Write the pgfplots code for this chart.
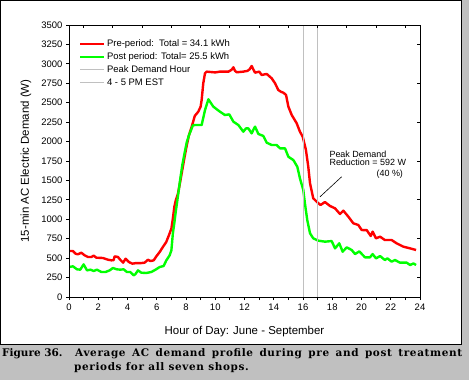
\documentclass[border=0pt]{standalone}
\usepackage{fontspec}
\setmainfont{Liberation Sans}
\newfontfamily\capfont{DejaVu Serif}
\newfontfamily\capfontls{DejaVu Serif}[LetterSpace=6]
\usepackage{pgfplots}
\pgfplotsset{compat=1.18}
\definecolor{bgray}{HTML}{C0C0C0}
\definecolor{pred}{HTML}{FF0000}
\definecolor{pgreen}{HTML}{00FF00}
\definecolor{lgray}{HTML}{C0C0C0}
\begin{document}
\begin{tikzpicture}[x=1bp,y=1bp]
\useasboundingbox (0,0) rectangle (469,-380);
\fill[bgray] (0,0) rectangle (469,-380);
\filldraw[fill=white, draw=black, line width=1bp] (0.5,-0.5) rectangle (461.5,-344);
\begin{axis}[
  at={(69bp,-297bp)}, anchor=south west,
  scale only axis, width=351bp, height=272bp,
  xmin=0, xmax=24, ymin=0, ymax=3500,
  axis line style={line width=1bp},
  xtick={0,2,...,24}, minor xtick={1,3,...,23},
  ytick={0,250,...,3500},
  tick pos=left, tick align=outside,
  major tick length=3bp, minor tick length=3bp,
  every tick/.style={black, line width=0.8bp},
  every minor tick/.style={black, line width=0.8bp},
  /pgf/number format/.cd, 1000 sep={}, assume math mode=true, /pgfplots/.cd,
  ticklabel style={font=\fontsize{9.5}{11}\selectfont},
  xlabel={Hour of Day: June - September},
  ylabel={15-min AC Electric Demand (W)},
  label style={font=\fontsize{11.5}{13}\selectfont},
  xlabel style={at={(axis description cs:0.5,-0.1287)}, anchor=center},
  ylabel style={at={(axis description cs:-0.1225,0.5)}, anchor=center},
  legend cell align=left,
  legend image code/.code={\draw[#1] (0bp,0bp) -- (24bp,0bp);},
  legend style={draw=none, fill=none, at={(axis description cs:0.0285,0.952)}, anchor=north west,
    font=\fontsize{9.5}{11}\selectfont, row sep=1.6bp, inner sep=0pt,
    nodes={inner sep=1.5bp}},
]
\addplot[pred, line width=2.4bp, line join=round] coordinates {
(0,592)(0.27,592)(0.45,558)(0.6,549)(0.84,570)(1.07,536)(1.3,515)(1.53,515)(1.69,532)(1.87,506)
(2.32,502)(2.67,480)(2.9,472)(3.05,475)(3.12,523)(3.35,515)(3.5,480)(3.7,442)(3.87,493)(4.1,450)
(4.33,429)(4.6,437)(4.94,437)(5.17,442)(5.4,480)(5.56,463)(5.79,472)(5.97,523)(6.2,579)(6.42,644)
(6.65,708)(6.83,794)(7.0,880)(7.1,1008)(7.2,1158)(7.3,1244)(7.45,1330)(7.6,1480)(7.75,1640)(7.9,1800)
(8.05,1950)(8.2,2080)(8.39,2192)(8.6,2330)(8.84,2385)(9.0,2450)(9.07,2535)(9.18,2750)(9.3,2880)(9.41,2900)
(10.0,2890)(10.32,2900)(10.9,2900)(11.0,2910)(11.15,2930)(11.24,2956)(11.35,2910)(11.47,2892)(11.92,2900)
(12.2,2910)(12.35,2930)(12.49,2973)(12.6,2930)(12.72,2887)(13.01,2900)(13.17,2857)(13.52,2870)(13.86,2814)
(14.09,2750)(14.31,2664)(14.5,2640)(14.66,2629)(14.84,2600)(15.0,2449)(15.23,2342)(15.57,2235)(15.79,2127)
(15.98,2063)(16.2,1892)(16.36,1677)(16.48,1463)(16.7,1270)(17.05,1206)(17.2,1184)(17.5,1222)(17.85,1171)
(18.19,1141)(18.53,1068)(18.76,1111)(19.1,1034)(19.44,948)(19.78,927)(20.01,862)(20.36,860)(20.63,785)
(20.76,841)(20.99,755)(21.27,776)(21.6,733)(22.06,733)(22.4,691)(22.86,648)(23.32,626)(23.73,605)
};
\addlegendentry{Pre-period:\ \ Total = 34.1 kWh}
\addplot[pgreen, line width=2.4bp, line join=round] coordinates {
(0,386)(0.27,395)(0.55,356)(0.77,352)(1.0,420)(1.23,343)(1.46,352)(1.69,335)(1.91,352)(2.21,322)
(2.5,322)(2.78,343)(3.0,373)(3.28,356)(3.5,352)(3.74,356)(3.96,322)(4.19,322)(4.42,279)(4.53,292)
(4.72,343)(4.94,313)(5.28,309)(5.63,322)(5.92,352)(6.2,386)(6.47,399)(6.65,470)(6.88,536)(7.0,600)
(7.1,815)(7.2,950)(7.3,1100)(7.45,1300)(7.6,1510)(7.75,1700)(7.9,1850)(8.05,1990)(8.2,2080)(8.39,2170)
(8.47,2209)(8.6,2213)(9.07,2213)(9.3,2406)(9.53,2544)(9.87,2449)(10.32,2385)(10.66,2342)(10.96,2350)
(11.24,2256)(11.58,2213)(11.92,2127)(12.1,2170)(12.26,2170)(12.49,2106)(12.6,2150)(12.72,2192)(12.95,2098)
(13.29,2072)(13.52,1986)(13.86,1956)(14.2,1956)(14.43,1913)(14.77,1913)(15.0,1805)(15.34,1762)(15.61,1677)
(15.79,1527)(16.02,1377)(16.13,1206)(16.29,991)(16.48,820)(16.7,755)(17.05,725)(17.5,712)(17.96,720)
(18.19,626)(18.48,691)(18.71,583)(18.99,639)(19.33,605)(19.56,553)(19.85,587)(20.24,510)(20.58,510)
(20.76,553)(20.99,497)(21.27,527)(21.6,476)(21.77,497)(22.06,455)(22.29,476)(22.63,442)(23.09,442)
(23.32,412)(23.55,432)(23.73,412)
};
\addlegendentry{Post period: Total= 25.5 kWh}
\addplot[lgray, line width=1bp] coordinates {(16,0)(16,3500)};
\addlegendentry{Peak Demand Hour}
\addplot[lgray, line width=1bp] coordinates {(17,0)(17,3500)};
\addlegendentry{4 - 5 PM EST}
\draw[black, line width=0.6bp] (axis cs:17.16,1289) -- (axis cs:18.64,1547);
\node[anchor=base west, inner sep=0pt, font=\fontsize{9}{10}\selectfont] at (axis cs:17.8,1795) {Peak Demand};
\node[anchor=base west, inner sep=0pt, font=\fontsize{9}{10}\selectfont] at (axis cs:17.8,1686) {Reduction = 592 W};
\node[anchor=base east, inner sep=0pt, font=\fontsize{9}{10}\selectfont] at (axis cs:22.85,1557) {(40 \%)};
\end{axis}
\begin{axis}[
  at={(69bp,-297bp)}, anchor=south west,
  scale only axis, width=351bp, height=272bp,
  xmin=0, xmax=24, ymin=0, ymax=3500,
  axis line style={line width=1bp},
  xtick={1,3,...,23}, ytick={250,750,...,3250},
  xticklabels={}, yticklabels={},
  xtick pos=right, ytick pos=right, tick align=inside,
  major tick length=3bp,
  every tick/.style={black, line width=0.8bp},
]
\end{axis}
\node[anchor=base west, inner sep=0pt, font=\capfont\bfseries\fontsize{10.5}{12}\selectfont] at (2,-356.3) {Figure 36.};
\node[anchor=base west, inner sep=0pt, font=\capfontls\bfseries\fontsize{10.5}{12}\selectfont] at (75,-356.3) {\makebox[387bp][s]{Average AC demand profile during pre and post treatment}};
\node[anchor=base west, inner sep=0pt, font=\capfontls\bfseries\fontsize{10.5}{12}\selectfont] at (74,-370.7) {periods for all seven shops.};
\end{tikzpicture}
\end{document}
